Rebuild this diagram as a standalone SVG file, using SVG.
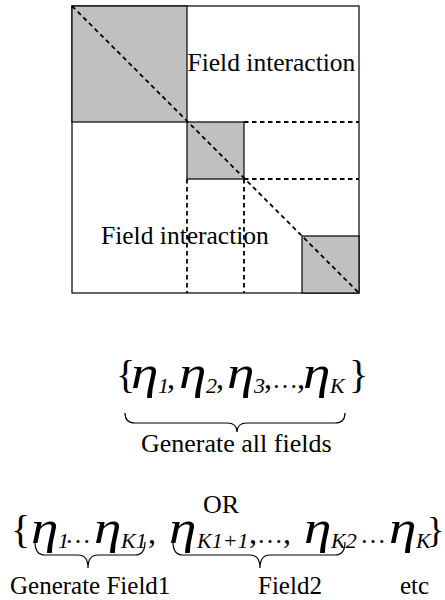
<svg xmlns="http://www.w3.org/2000/svg" width="445" height="600" viewBox="0 0 445 600">
<style>
.t{font-family:'Liberation Serif','Times New Roman',serif;fill:#000}
.e{font-family:'Liberation Serif','Times New Roman',serif;font-style:italic;font-size:46px;fill:#000}
.s{font-family:'Liberation Serif','Times New Roman',serif;font-style:italic;font-size:22px;fill:#000}
.solid{fill:none;stroke:#000;stroke-width:1.2}
.gray{fill:#c0c0c0;stroke:#000;stroke-width:1.2}
.dash{fill:none;stroke:#000;stroke-width:1.8;stroke-dasharray:4.5,3.5}
.brace{fill:none;stroke:#000;stroke-width:1.2}
</style>
<rect width="445" height="600" fill="#fff"/>
<g id="matrix">
<rect class="solid" x="72" y="6" width="287" height="287"/>
<rect class="gray" x="72" y="6" width="115" height="116"/>
<rect class="gray" x="187" y="122" width="57" height="57"/>
<rect class="gray" x="302" y="236" width="57" height="57"/>
</g>
<g id="connectors">
<line class="dash" x1="72" y1="6" x2="359" y2="293"/>
<line class="dash" x1="244" y1="122" x2="359" y2="122"/>
<line class="dash" x1="244" y1="179" x2="359" y2="179"/>
<line class="dash" x1="187" y1="179" x2="187" y2="293"/>
<line class="dash" x1="244" y1="179" x2="244" y2="293"/>
</g>
<g id="labels">
<text class="t" x="187.5" y="71" font-size="25.5">Field interaction</text>
<text class="t" x="101" y="244" font-size="25.5">Field interaction</text>
</g>
<g id="eq1">
<text class="t" x="116" y="388" font-size="40">{</text>
<text class="e" transform="translate(131,388) scale(1.2,1)">η</text>
<text class="s" x="158" y="393">1</text>
<text class="t" x="167" y="388" font-size="32">,</text>
<text class="e" transform="translate(179,388) scale(1.2,1)">η</text>
<text class="s" x="206" y="393">2</text>
<text class="t" x="216" y="388" font-size="32">,</text>
<text class="e" transform="translate(227,388) scale(1.2,1)">η</text>
<text class="s" x="254" y="393">3</text>
<text class="t" x="264" y="388" font-size="32">,</text>
<text class="t" x="272" y="388" font-size="26">…</text>
<text class="t" x="297" y="388" font-size="32">,</text>
<text class="e" transform="translate(303,388) scale(1.2,1)">η</text>
<text class="s" x="330" y="393">K</text>
<text class="t" x="349" y="388" font-size="40">}</text>
</g>
<g id="brace1">
<path class="brace" d="M125,413 Q125,423 135,423 L227,423 Q237,423 237,432 Q237,423 247,423 L335,423 Q345,423 345,413"/>
<text class="t" x="141" y="452" font-size="26">Generate all fields</text>
</g>
<g id="eq2">
<text class="t" x="203" y="513" font-size="26">OR</text>
<text class="t" x="11" y="543" font-size="40">{</text>
<text class="e" transform="translate(31,543) scale(1.2,1)">η</text>
<text class="s" x="58" y="548">1</text>
<text class="t" x="65" y="543" font-size="26">…</text>
<text class="e" transform="translate(94,543) scale(1.2,1)">η</text>
<text class="s" x="121" y="548">K1</text>
<text class="t" x="148" y="543" font-size="32">,</text>
<text class="e" transform="translate(169,543) scale(1.2,1)">η</text>
<text class="s" x="197" y="548">K1+1</text>
<text class="t" x="249" y="543" font-size="32">,</text>
<text class="t" x="257" y="543" font-size="26">…</text>
<text class="t" x="283" y="543" font-size="32">,</text>
<text class="e" transform="translate(304,543) scale(1.2,1)">η</text>
<text class="s" x="331" y="548">K2</text>
<text class="t" x="360" y="543" font-size="26">…</text>
<text class="e" transform="translate(389,543) scale(1.2,1)">η</text>
<text class="s" x="416" y="548">K</text>
<text class="t" x="427" y="542" font-size="36">}</text>
</g>
<g id="brace2">
<path class="brace" d="M35,542 Q35,555 45,555 L78,555 Q88,555 88,568 Q88,555 98,555 L135,555 Q145,555 145,542"/>
<path class="brace" d="M173,542 Q173,555 183,555 L250,555 Q260,555 260,568 Q260,555 270,555 L335,555 Q345,555 345,542"/>
<text class="t" x="10" y="594" font-size="25">Generate Field1</text>
<text class="t" x="258" y="594" font-size="25">Field2</text>
<text class="t" x="400" y="594" font-size="25">etc</text>
</g>
</svg>
